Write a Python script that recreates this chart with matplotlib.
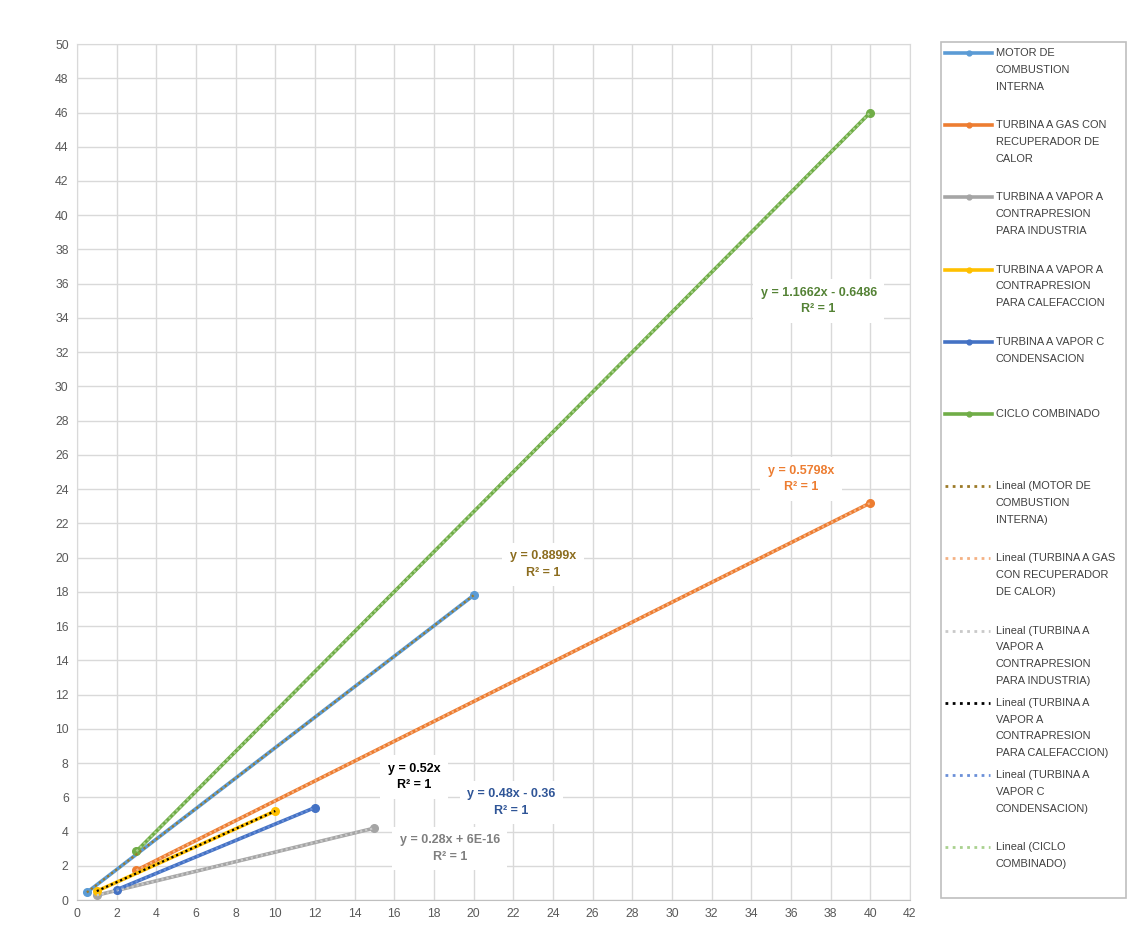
import numpy as np
import matplotlib.pyplot as plt
from matplotlib.lines import Line2D
from matplotlib.patches import Rectangle

plt.rcParams['font.family'] = ['Liberation Sans', 'DejaVu Sans']

# series: two points each (potencia electrica vs calor util)
series_names = [
    "MOTOR DE\nCOMBUSTION\nINTERNA",
    "TURBINA A GAS CON\nRECUPERADOR DE\nCALOR",
    "TURBINA A VAPOR A\nCONTRAPRESION\nPARA INDUSTRIA",
    "TURBINA A VAPOR A\nCONTRAPRESION\nPARA CALEFACCION",
    "TURBINA A VAPOR C\nCONDENSACION",
    "CICLO COMBINADO",
]
trend_names = [
    "Lineal (MOTOR DE\nCOMBUSTION\nINTERNA)",
    "Lineal (TURBINA A GAS\nCON RECUPERADOR\nDE CALOR)",
    "Lineal (TURBINA A\nVAPOR A\nCONTRAPRESION\nPARA INDUSTRIA)",
    "Lineal (TURBINA A\nVAPOR A\nCONTRAPRESION\nPARA CALEFACCION)",
    "Lineal (TURBINA A\nVAPOR C\nCONDENSACION)",
    "Lineal (CICLO\nCOMBINADO)",
]
x_motor = [0.5, 20]
y_motor = [0.445, 17.798]
x_gas = [3, 40]
y_gas = [1.7394, 23.192]
x_industria = [1, 15]
y_industria = [0.28, 4.2]
x_calefaccion = [1, 10]
y_calefaccion = [0.52, 5.2]
x_condensacion = [2, 12]
y_condensacion = [0.6, 5.4]
x_ciclo = [3, 40]
y_ciclo = [2.85, 46.0]

equations = [
    "y = 0.8899x\nR² = 1",
    "y = 0.5798x\nR² = 1",
    "y = 0.28x + 6E-16\nR² = 1",
    "y = 0.52x\nR² = 1",
    "y = 0.48x - 0.36\nR² = 1",
    "y = 1.1662x - 0.6486\nR² = 1",
]
label_pos = [(23.5, 19.6), (36.5, 24.6), (18.8, 3.0), (17.0, 7.2), (21.9, 5.7), (37.4, 35.0)]

xs = [x_motor, x_gas, x_industria, x_calefaccion, x_condensacion, x_ciclo]
ys = [y_motor, y_gas, y_industria, y_calefaccion, y_condensacion, y_ciclo]
line_colors = ['#5B9BD5', '#ED7D31', '#A5A5A5', '#FFC000', '#4472C4', '#70AD47']
trend_colors = ['#9C7A28', '#F4B183', '#C9C9C9', '#000000', '#6A8FD8', '#A9D18E']
label_colors = ['#8C6D1F', '#ED7D31', '#7F7F7F', '#000000', '#2F5597', '#548235']

fig = plt.figure(figsize=(11.47, 9.51), dpi=100)
ax = fig.add_axes([0.0671, 0.0536, 0.7262, 0.9001])

for x, y, c in zip(xs, ys, line_colors):
    ax.plot(x, y, color=c, lw=2.6, marker='o', ms=5.5, zorder=3)

for x, y, c in zip(xs, ys, trend_colors):
    m, b = np.polyfit(x, y, 1)
    xx = np.array([min(x), max(x)])
    ax.plot(xx, m * xx + b, color=c, lw=1.6, ls=(0, (1, 1.3)), zorder=4)

for txt, (lx, ly), c in zip(equations, label_pos, label_colors):
    ax.text(lx, ly, txt, color=c, fontsize=9, fontweight='bold', ha='center', va='center',
            linespacing=1.5, zorder=5,
            bbox=dict(boxstyle='square,pad=0.6', fc='white', ec='none'))

ax.set_xlim(0, 42)
ax.set_ylim(0, 50)
ax.set_xticks(np.arange(0, 43, 2))
ax.set_yticks(np.arange(0, 51, 2))
ax.grid(True, color='#D9D9D9', lw=1)
ax.set_axisbelow(True)
ax.tick_params(length=0, labelsize=8.8, labelcolor='#595959', pad=6)
for s in ax.spines.values():
    s.set_color('#D9D9D9')
ax.spines['bottom'].set_color('#BFBFBF')

# legend drawn in figure pixels
W, H = 1147, 951
fig.patches.append(Rectangle((941 / W, 1 - 898 / H), 185 / W, 856 / H, transform=fig.transFigure,
                             fill=False, ec='#BFBFBF', lw=1.2))
for i in range(12):
    yy = 53 + 72.2 * i
    fy = 1 - yy / H
    if i < 6:
        c = line_colors[i]
        fig.lines.append(Line2D([945 / W, 992 / W], [fy, fy], transform=fig.transFigure,
                                color=c, lw=2.6))
        fig.lines.append(Line2D([968.5 / W], [fy], transform=fig.transFigure,
                                color=c, marker='o', ms=3.5, lw=0))
        name = series_names[i]
    else:
        c = trend_colors[i - 6]
        fig.lines.append(Line2D([945 / W, 990 / W], [fy, fy], transform=fig.transFigure,
                                color=c, lw=2, ls=(0, (1, 1.6))))
        name = trend_names[i - 6]
    fig.text(996 / W, 1 - (yy - 5) / H, name, fontsize=7.9, color='#404040',
             va='top', ha='left', linespacing=1.85)

fig.savefig('out.png', dpi=100)
